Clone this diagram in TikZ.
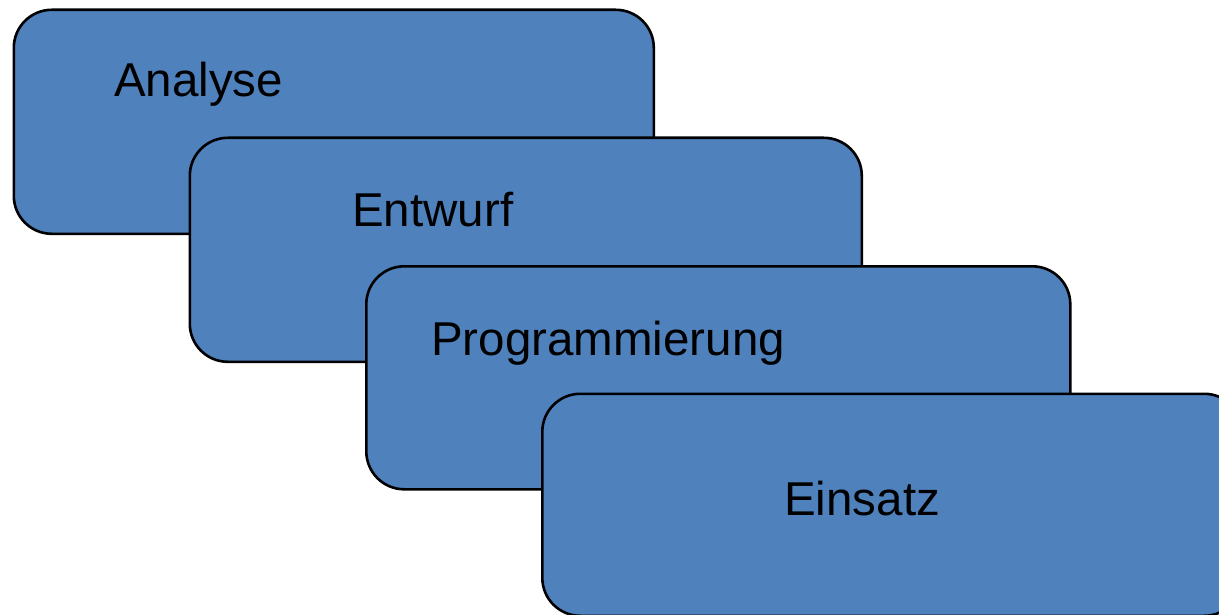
\documentclass[tikz,border=0pt]{standalone}
\usepackage{fontspec}
\setmainfont{Liberation Sans}
\definecolor{phaseblue}{HTML}{4F81BD}
\begin{document}
\begin{tikzpicture}[x=1pt,y=-1pt,
  phase/.style={draw=black, line width=2.6pt, fill=phaseblue,
    rounded corners=38pt, rectangle, anchor=north west, inner sep=0pt},
  label/.style={anchor=base west, inner sep=0pt, text=black,
    font=\fontsize{47.5pt}{54pt}\selectfont}]
\useasboundingbox (0,0) rectangle (1219,615);
\clip (0,0) rectangle (1219,615);
% overlapping phase boxes, each drawn over the previous one
\node[phase, minimum width=640pt, minimum height=224pt] (analyse) at (12.5,8.5) {};
\node[label] (tanalyse) at (114,97) {Analyse};
\node[phase, minimum width=672pt, minimum height=224pt] (entwurf) at (188.5,136.5) {};
\node[label] (tentwurf) at (352,226) {Entwurf};
\node[phase, minimum width=704pt, minimum height=223pt] (prog) at (365,265) {};
\node[label] (tprog) at (431,355) {Programmierung};
\node[phase, minimum width=700pt, minimum height=222pt] (einsatz) at (541,392.5) {};
\node[label] (teinsatz) at (784,515) {Einsatz};
\end{tikzpicture}
\end{document}
